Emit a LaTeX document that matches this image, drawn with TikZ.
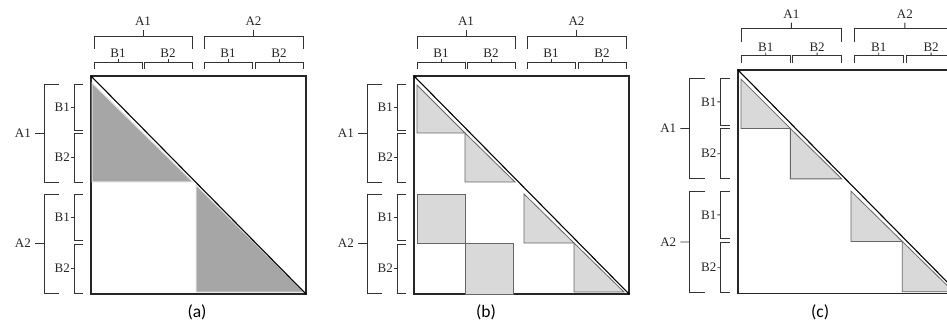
\documentclass[tikz,border=0pt]{standalone}
\usepackage{fontspec}
\setmainfont{Liberation Serif}
\newfontfamily\capfont{Carlito}
\usetikzlibrary{positioning}

\begin{document}
\begin{tikzpicture}[x=1pt, y=-1pt,
    brk/.style={line width=0.9pt, draw=black!80},
    lbl/.style={font=\fontsize{13}{13}\selectfont, inner sep=1pt, text=black!85},
    captext/.style={font=\capfont\fontsize{17.5}{17.5}\selectfont, inner sep=0pt, anchor=north},
    sqframe/.style={line width=1.1pt, draw=black!85},
    bigtri/.style={fill=black!35, draw=black!12, line width=1pt},
    smalltri/.style={fill=black!15, draw=black!60, line width=0.8pt},
    diag/.style={line width=1.1pt, draw=black}]

    \useasboundingbox (0,0) rectangle (947,323);
    \clip (0,0) rectangle (947,323);

    % Brackets, frames and captions of the three panels
    \foreach \px/\py/\sc/\pn/\cx/\cy in {91/76/1/a/106/228, 414/76/1/b/72/228, 738/70/1.027/c/80/228} {
        \begin{scope}[shift={(\px,\py)}, scale=\sc]
            % top brackets
            \foreach \xa/\xb/\an in {3/101/A1, 113/212/A2} {
                \draw[brk] (\xa,-27) -- (\xa,-40) -- (\xb,-40) -- (\xb,-27);
                \node[lbl, anchor=south] (tA\an-\pn) at ({(\xa+\xb)/2},-49) {\an};
                \draw[brk, shorten >=3pt] ({(\xa+\xb)/2},-40) -- (tA\an-\pn.south);
            }
            \foreach \xa/\xb/\bn [count=\i] in {3/51/B1, 53/101/B2, 113/161/B1, 164/212/B2} {
                \draw[brk] (\xa,-7) -- (\xa,-14) -- (\xb,-14) -- (\xb,-7);
                \node[lbl, anchor=south] (tB\i-\pn) at ({(\xa+\xb)/2},-17) {\bn};
                \draw[brk] ({(\xa+\xb)/2},-14) -- (tB\i-\pn.south);
            }
            % left brackets
            \foreach \ya/\yb/\an in {8/106/A1, 118/217/A2} {
                \draw[brk] (-32,\ya) -- (-47,\ya) -- (-47,\yb) -- (-32,\yb);
                \node[lbl, anchor=east] (lA\an-\pn) at (-59,{(\ya+\yb)/2}) {\an};
                \draw[brk, shorten >=3pt] (-47,{(\ya+\yb)/2}) -- (lA\an-\pn.east);
            }
            \foreach \ya/\yb/\bn [count=\i] in {8/54/B1, 57/106/B2, 118/164/B1, 168/217/B2} {
                \draw[brk] (-8,\ya) -- (-17,\ya) -- (-17,\yb) -- (-8,\yb);
                \node[lbl, anchor=east] (lB\i-\pn) at (-20,{(\ya+\yb)/2}) {\bn};
                \draw[brk] (-17,{(\ya+\yb)/2}) -- (lB\i-\pn.east);
            }
            \draw[sqframe] (0,0) rectangle (215,218);
            \node[captext] (cap-\pn) at (\cx,\cy) {(\pn)};
        \end{scope}
    }

    % (a) whole A blocks
    \begin{scope}[shift={(91,76)}]
        \draw[bigtri] (1,7) -- (1,106) -- (102,106) -- cycle;
        \draw[bigtri] (105,109) -- (105,216) -- (213,216) -- cycle;
    \end{scope}

    % (b) B blocks on the diagonal and two off it
    \begin{scope}[shift={(414,76)}]
        \draw[smalltri] (3,118) rectangle (51,167);
        \draw[smalltri] (51,167) rectangle (99,218);
        \draw[smalltri] (3,9) -- (3,57) -- (51,57) -- cycle;
        \draw[smalltri] (51,57) -- (51,106) -- (101,106) -- cycle;
        \draw[smalltri] (110,118) -- (110,167) -- (160,167) -- cycle;
        \draw[smalltri] (160,167) -- (160,216) -- (210,216) -- cycle;
    \end{scope}

    % (c) B blocks on the diagonal only
    \begin{scope}[shift={(738,70)}, scale=1.027]
        \draw[smalltri] (3,9) -- (3,57) -- (51,57) -- cycle;
        \draw[smalltri] (51,57) -- (51,106) -- (101,106) -- cycle;
        \draw[smalltri] (110,118) -- (110,167) -- (160,167) -- cycle;
        \draw[smalltri] (160,167) -- (160,216) -- (210,216) -- cycle;
    \end{scope}

    % diagonals
    \foreach \px/\py/\sc in {91/76/1, 414/76/1, 738/70/1.027} {
        \draw[diag, shift={(\px,\py)}, scale=\sc] (0,0) -- (215,218);
    }
\end{tikzpicture}
\end{document}
